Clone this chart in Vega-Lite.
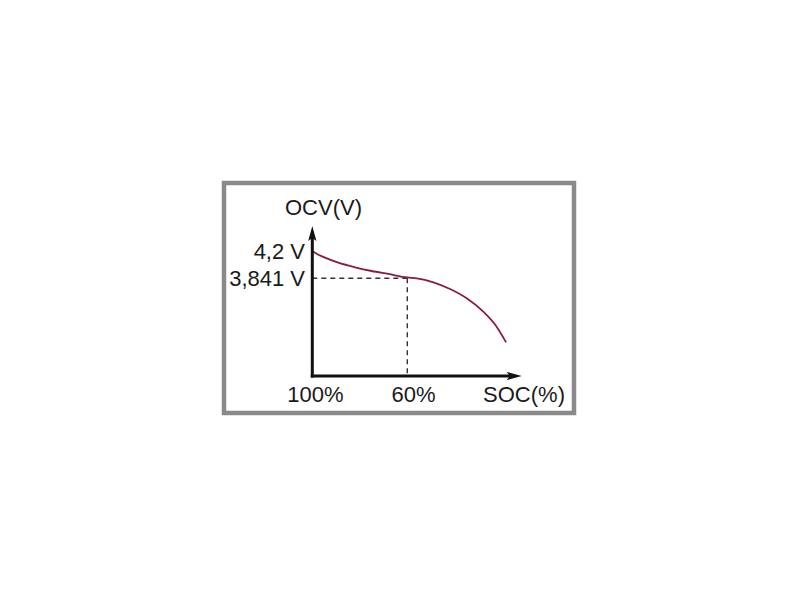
{
  "$schema": "https://vega.github.io/schema/vega-lite/v6.json",
  "width": 350,
  "height": 230,
  "autosize": "none",
  "padding": {"left": 224, "top": 183, "right": 226, "bottom": 187},
  "background": "white",
  "config": {"view": {"stroke": "#8a8a8a", "strokeWidth": 4.5}},
  "datasets": {
    "curve": [
      {"soc": 100, "v": 4.2},
      {"soc": 98.0, "v": 4.161},
      {"soc": 94.65, "v": 4.112},
      {"soc": 89.05, "v": 4.046},
      {"soc": 82.0, "v": 3.986},
      {"soc": 75.0, "v": 3.937},
      {"soc": 68.0, "v": 3.898},
      {"soc": 60.0, "v": 3.852},
      {"soc": 56.0, "v": 3.84},
      {"soc": 49.0, "v": 3.788},
      {"soc": 42.0, "v": 3.7},
      {"soc": 35.0, "v": 3.578},
      {"soc": 28.0, "v": 3.402},
      {"soc": 22.4, "v": 3.205},
      {"soc": 18.4, "v": 2.999}
    ],
    "guides": [
      {"soc": 100, "v": 3.841, "soc2": 60, "v2": 3.841},
      {"soc": 60, "v": 3.841, "soc2": 60, "v2": 2.556}
    ],
    "axes": [
      {"soc": 100.63, "v": 2.556, "soc2": 16.0, "v2": 2.556},
      {"soc": 100, "v": 2.536, "soc2": 100, "v2": 4.4}
    ],
    "xarrow": [{"soc": 11.83, "v": 2.556}],
    "yarrow": [{"soc": 100, "v": 4.529}],
    "ylabels": [
      {"soc": 103.07, "v": 4.187, "label": "4,2 V"},
      {"soc": 103.07, "v": 3.832, "label": "3,841 V"}
    ],
    "xlabels": [
      {"soc": 95.28, "v": 4.765, "label": "OCV(V)"},
      {"soc": 98.65, "v": 2.306, "label": "100%"},
      {"soc": 57.39, "v": 2.306, "label": "60%"},
      {"soc": 10.86, "v": 2.306, "label": "SOC(%)"}
    ]
  },
  "encoding": {
    "x": {"field": "soc", "type": "quantitative", "axis": null, "scale": {"domain": [-10.19, 137.18], "reverse": true, "nice": false, "zero": false}},
    "y": {"field": "v", "type": "quantitative", "axis": null, "scale": {"domain": [2.07, 5.094], "nice": false, "zero": false}}
  },
  "layer": [
    {
      "data": {"name": "guides"},
      "mark": {"type": "rule", "color": "#333333", "strokeWidth": 1.4, "strokeDash": [5, 4]},
      "encoding": {"x2": {"field": "soc2"}, "y2": {"field": "v2"}}
    },
    {
      "data": {"name": "curve"},
      "mark": {"type": "line", "interpolate": "monotone", "color": "#8a1c40", "strokeWidth": 1.8}
    },
    {
      "data": {"name": "axes"},
      "mark": {"type": "rule", "color": "#111111", "strokeWidth": 3},
      "encoding": {"x2": {"field": "soc2"}, "y2": {"field": "v2"}}
    },
    {
      "data": {"name": "xarrow"},
      "mark": {"type": "point", "filled": true, "opacity": 1, "color": "#111111", "size": 225, "shape": "M0,0L-2,-0.55L-1.6,0L-2,0.55Z"}
    },
    {
      "data": {"name": "yarrow"},
      "mark": {"type": "point", "filled": true, "opacity": 1, "color": "#111111", "size": 225, "shape": "M0,0L-0.55,2L0,1.6L0.55,2Z"}
    },
    {
      "data": {"name": "ylabels"},
      "mark": {"type": "text", "align": "right", "baseline": "middle", "font": "Liberation Sans", "fontSize": 22, "color": "#1a1a1a"},
      "encoding": {"text": {"field": "label"}}
    },
    {
      "data": {"name": "xlabels"},
      "mark": {"type": "text", "align": "center", "baseline": "middle", "font": "Liberation Sans", "fontSize": 22, "color": "#1a1a1a"},
      "encoding": {"text": {"field": "label"}}
    }
  ]
}
